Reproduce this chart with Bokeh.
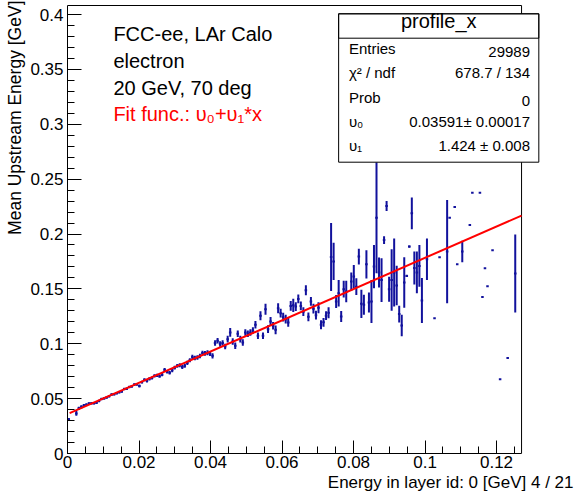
import math
from bokeh.plotting import figure
from bokeh.models import (Range1d, Label, BoxAnnotation, FixedTicker, Title,
                          CustomJSTickFormatter, ColumnDataSource)
from bokeh.embed import file_html
from bokeh.resources import INLINE

# ---------------- data ----------------
x_min, x_max, n_bins = 0.0, 0.127, 180

bin_index = [0, 3, 4, 5, 6, 7, 8, 9, 10, 11, 12, 13, 14, 15, 16, 17, 18, 19, 20,
             21, 22, 23, 24, 25, 26, 27, 28, 29, 30, 31, 32, 33, 34, 35, 36, 37, 38,
             39, 40, 41, 42, 43, 44, 45, 46, 47, 48, 49, 50, 51, 52, 53, 54, 55, 56,
             57, 58, 59, 60, 61, 62, 63, 64, 65, 66, 67, 68, 69, 70, 71, 72, 73, 74,
             75, 76, 77, 78, 79, 80, 81, 82, 83, 84, 85, 86, 87, 88, 89, 90, 91, 92,
             93, 94, 95, 96, 97, 98, 99, 100, 101, 102, 103, 104, 105, 106, 107, 108,
             109, 110, 112, 113, 114, 115, 116, 117, 118, 119, 120, 121, 122, 123,
             124, 125, 126, 127, 128, 129, 130, 131, 132, 133, 134, 135, 136, 137,
             138, 139, 140, 142, 145, 147, 150, 151, 153, 154, 156, 159, 160, 163,
             164, 165, 166, 168, 171, 174, 177]

mean_energy = [0.0312, 0.0365, 0.0412, 0.0425, 0.0438, 0.0445, 0.0455, 0.0458, 0.0458,
               0.0462, 0.0478, 0.0497, 0.0502, 0.0510, 0.0522, 0.0538, 0.0540, 0.0549,
               0.0558, 0.0566, 0.0588, 0.0590, 0.0606, 0.0612, 0.0628, 0.0630, 0.0615,
               0.0650, 0.0672, 0.0662, 0.0680, 0.0688, 0.0708, 0.0712, 0.0705, 0.0718,
               0.0762, 0.0745, 0.0735, 0.0758, 0.0782, 0.0798, 0.0805, 0.0788, 0.0800,
               0.0825, 0.0850, 0.0880, 0.0870, 0.0875, 0.0888, 0.0915, 0.0912, 0.0918,
               0.0912, 0.0890,
               0.1006, 0.1027, 0.0997, 0.1006, 0.0976, 0.1042, 0.1103, 0.1021, 0.0982,
               0.1091, 0.1042, 0.1012, 0.1103, 0.1091, 0.1103, 0.1121, 0.1173, 0.1073,
               0.1255, 0.1073, 0.1315, 0.1133, 0.1203, 0.1164, 0.1127, 0.1324, 0.1279,
               0.1242, 0.1224, 0.1194, 0.1345, 0.1350, 0.1339, 0.1408, 0.1345, 0.1292,
               0.1488, 0.1245, 0.1386, 0.1320, 0.1260, 0.1328, 0.1173, 0.1195, 0.1256,
               0.1282,
               0.1790, 0.1750, 0.1385, 0.1460, 0.1248, 0.1497, 0.1476, 0.1567, 0.1612,
               0.1520, 0.1794, 0.1364, 0.1355, 0.1724, 0.1376, 0.1385, 0.1703, 0.2148,
               0.1649, 0.1580, 0.1945, 0.2255, 0.1497, 0.1580, 0.1650, 0.1530, 0.1270,
               0.1167, 0.1558, 0.1618, 0.1885, 0.2188, 0.1690, 0.1650, 0.1709, 0.1394,
               0.1770, 0.1233, 0.1788, 0.1840, 0.2148, 0.2245, 0.1724, 0.1840, 0.2082,
               0.2376, 0.2376, 0.1427, 0.1688, 0.1525, 0.1853, 0.0676, 0.0870, 0.1640]

mean_error = [0.0012, 0.0022, 0.0015, 0.0014, 0.0013, 0.0012, 0.0012, 0.0012, 0.0011,
              0.0011, 0.0011, 0.0011, 0.0011, 0.0011, 0.0011, 0.0011, 0.0011, 0.0012,
              0.0012, 0.0012, 0.0012, 0.0012, 0.0012, 0.0013, 0.0013, 0.0013, 0.0013,
              0.0013, 0.0014, 0.0014, 0.0014, 0.0014, 0.0015, 0.0015, 0.0015, 0.0015,
              0.0016, 0.0016, 0.0016, 0.0017, 0.0017, 0.0017, 0.0018, 0.0018, 0.0018,
              0.0019, 0.0019, 0.0020, 0.0020, 0.0021, 0.0021, 0.0022, 0.0022, 0.0023,
              0.0023, 0.0024,
              0.0025, 0.0025, 0.0025, 0.0025, 0.0025, 0.0030, 0.0040, 0.0030, 0.0030,
              0.0030, 0.0030, 0.0030, 0.0030, 0.0030, 0.0030, 0.0030, 0.0035, 0.0030,
              0.0040, 0.0030, 0.0050, 0.0035, 0.0040, 0.0035, 0.0040, 0.0045, 0.0040,
              0.0040, 0.0040, 0.0040, 0.0045, 0.0060, 0.0040, 0.0040, 0.0040, 0.0040,
              0.0045, 0.0040, 0.0040, 0.0045, 0.0040, 0.0050, 0.0040, 0.0040, 0.0040,
              0.0050,
              0.0310, 0.0170, 0.0060, 0.0120, 0.0050, 0.0076, 0.0098, 0.0083, 0.0106,
              0.0076, 0.0071, 0.0129, 0.0091, 0.0129, 0.0091, 0.0197, 0.0197, 0.0506,
              0.0136, 0.0200, 0.0035, 0.0045, 0.0114, 0.0280, 0.0310, 0.0180, 0.0076,
              0.0098, 0.0230, 0.0010, 0.0010, 0.0144, 0.0150, 0.0190, 0.0190, 0.0205,
              0.0190, 0.0000, 0.0000, 0.0470, 0.0000, 0.0000, 0.0000, 0.0098, 0.0000,
              0.0000, 0.0000, 0.0000, 0.0000, 0.0000, 0.0000, 0.0000, 0.0000, 0.0356]

fit_p0 = 0.03591
fit_p1 = 1.424
fit_x_start = 0.0006

x_ticks = [0.0, 0.02, 0.04, 0.06, 0.08, 0.10, 0.12]
x_tick_labels = ["0", "0.02", "0.04", "0.06", "0.08", "0.1", "0.12"]
y_ticks = [0.0, 0.05, 0.10, 0.15, 0.20, 0.25, 0.30, 0.35, 0.40]
y_tick_labels = ["0", "0.05", "0.1", "0.15", "0.2", "0.25", "0.3", "0.35", "0.4"]
y_axis_top = 0.4082

info_lines = ["FCC-ee, LAr Calo", "electron", "20 GeV, 70 deg"]
fit_text = "Fit func.:  \u03c5\u2080+\u03c5\u2081*x"

stat_title = "profile_x"
stat_names = ["Entries", "\u03c7\u00b2 / ndf", "Prob", "\u03c5\u2080", "\u03c5\u2081"]
stat_values = ["29989", "678.7 / 134", "0", "0.03591\u00b1 0.00017", "1.424 \u00b1 0.008"]

x_title = "Energy in layer id: 0 [GeV]"
y_title = "Mean Upstream Energy [GeV]"
page_text = "4 / 21"

# ---------------- layout ----------------
W, H = 576, 491
FL, FR, FT, FB = 66, 545, 3, 453      # bokeh frame (extends right of the drawn box)
AXR = 521                             # pixel of x_max (drawn frame edge)
PX_PER_Y = 1097.5
FONT = "Liberation Sans"
BLUE = "#11119c"

x_view_end = x_max * (FR - FL) / (AXR - FL)
y_view_end = (FB - FT) / PX_PER_Y


def X(px):
    return x_min + (px - FL) / (AXR - FL) * (x_max - x_min)


def Y(py):
    return (FB - py) / PX_PER_Y


bw = (x_max - x_min) / n_bins
xc = [x_min + (i + 0.5) * bw for i in bin_index]
src = ColumnDataSource(dict(
    x=xc, y=mean_energy,
    xl=[v - bw / 2 for v in xc], xr=[v + bw / 2 for v in xc],
    yl=[m - e for m, e in zip(mean_energy, mean_error)],
    yh=[m + e for m, e in zip(mean_energy, mean_error)],
))

p = figure(width=W, height=H, x_range=Range1d(x_min, x_view_end), y_range=Range1d(0, y_view_end),
           output_backend="svg", toolbar_location=None,
           min_border_left=FL, min_border_right=W - FR,
           min_border_top=FT, min_border_bottom=H - FB)
p.background_fill_color = "white"
p.border_fill_color = "white"
p.outline_line_color = None
p.xgrid.visible = False
p.ygrid.visible = False

fmt_code = """
const i = tvals.findIndex(t => Math.abs(t - tick) < 1e-9);
return i >= 0 ? tlabels[i] : '';
"""
p.xaxis.ticker = FixedTicker(ticks=x_ticks, minor_ticks=[k * 0.005 for k in range(26)])
p.xaxis.formatter = CustomJSTickFormatter(args=dict(tvals=x_ticks, tlabels=x_tick_labels), code=fmt_code)
p.yaxis.ticker = FixedTicker(ticks=y_ticks, minor_ticks=[k * 0.01 for k in range(41)])
p.yaxis.formatter = CustomJSTickFormatter(args=dict(tvals=y_ticks, tlabels=y_tick_labels), code=fmt_code)
p.xaxis.bounds = (x_min, x_max)
p.yaxis.bounds = (0, y_axis_top)

for ax in (p.xaxis, p.yaxis):
    ax.axis_line_color = "black"
    ax.major_tick_line_color = "black"
    ax.minor_tick_line_color = "black"
    ax.major_tick_out = 0
    ax.minor_tick_out = 0
    ax.minor_tick_in = 7
    ax.major_label_text_font = FONT
    ax.major_label_text_font_size = "17px"
    ax.major_label_text_color = "black"
p.yaxis.major_tick_in = 14
p.xaxis.major_tick_in = 13
p.yaxis.major_label_standoff = 4
p.xaxis.major_label_standoff = 2

# drawn frame (top and right edges)
p.add_layout(BoxAnnotation(left=x_min, right=x_max, bottom=0, top=y_axis_top,
                           fill_alpha=0.0, line_color="black", line_alpha=1.0, line_width=1,
                           level="underlay"))

# profile points: error bars
p.segment(x0="x", x1="x", y0="yl", y1="yh", source=src, line_color=BLUE, line_width=2)
p.segment(x0="xl", x1="xr", y0="y", y1="y", source=src, line_color=BLUE, line_width=2)

# fit line
fit_x = [fit_x_start, x_max]
fit_y = [fit_p0 + fit_p1 * v for v in fit_x]
p.line(fit_x, fit_y, line_color="red", line_width=2)

# info text
for k, t in enumerate(info_lines):
    p.add_layout(Label(x=X(112), y=Y(44.3 + 27.0 * k), text=t, text_font=FONT,
                       text_font_size="20px", text_color="black"))
p.add_layout(Label(x=X(112), y=Y(124.5), text=fit_text, text_font=FONT,
                   text_font_size="20px", text_color="red"))

# stats box
bl, br, bt, bb, bsep = X(337.7), X(538.3), Y(13.3), Y(161.7), Y(37.7)
p.add_layout(BoxAnnotation(left=bl, right=br, top=bt, bottom=bb, fill_color="white",
                           fill_alpha=1.0, line_color="black", line_alpha=1.0, line_width=1))
p.add_layout(BoxAnnotation(left=bl, right=br, top=bt, bottom=bsep, fill_alpha=0.0,
                           line_color="black", line_alpha=1.0, line_width=1))
p.add_layout(Label(x=X(438), y=Y(31.5), text=stat_title, text_font=FONT,
                   text_font_size="20px", text_align="center", text_color="black"))
for k, (n, v) in enumerate(zip(stat_names, stat_values)):
    yy = Y(56.7 + 24.15 * k)
    p.add_layout(Label(x=X(348), y=yy, text=n, text_font=FONT, text_font_size="15px",
                       text_align="left", text_color="black"))
    p.add_layout(Label(x=X(529.5), y=yy, text=v, text_font=FONT, text_font_size="15px",
                       text_align="right", text_color="black"))

# axis titles (side panels, not clipped)
p.add_layout(Title(text=y_title, align="right", offset=-3, standoff=5,
                   text_font=FONT, text_font_size="17.5px", text_font_style="normal",
                   text_color="black"), "left")
p.add_layout(Title(text=x_title + " " + page_text, align="right", offset=-28, standoff=0,
                   text_font=FONT, text_font_size="17px", text_font_style="normal",
                   text_color="black"), "below")

open("out.html", "w").write(file_html(p, INLINE))
